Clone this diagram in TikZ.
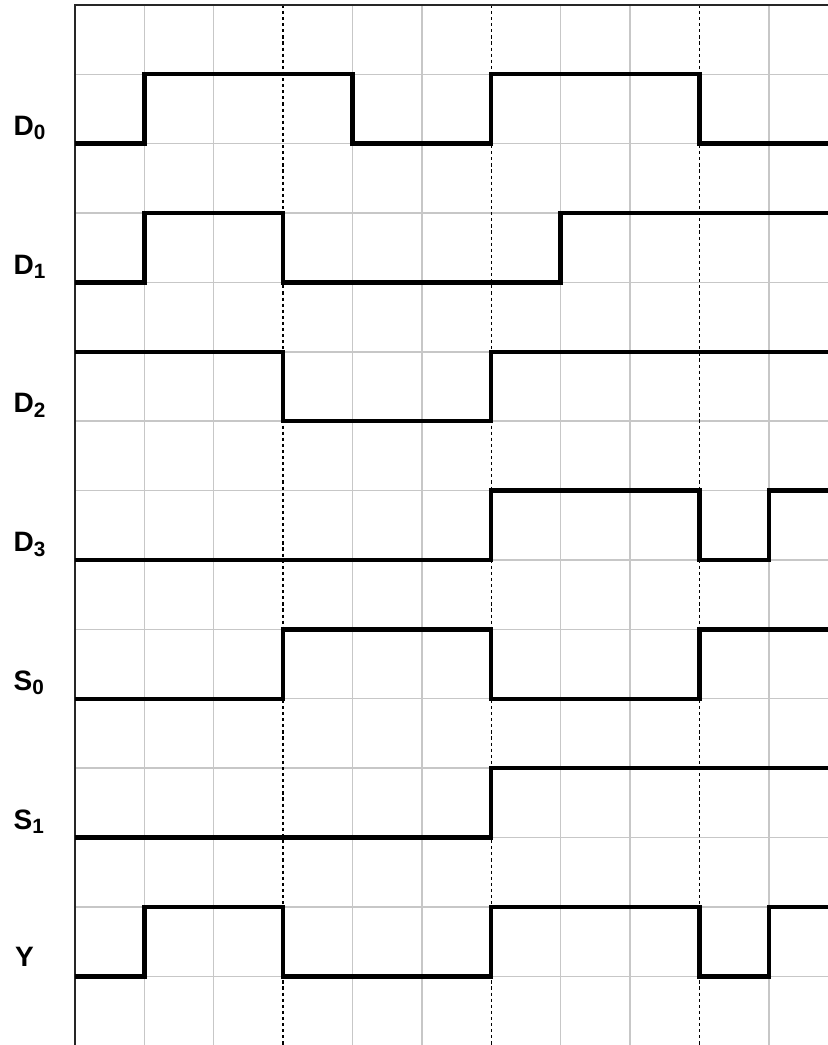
\documentclass[tikz,border=0pt]{standalone}
\usepackage{fontspec}
\setmainfont{Liberation Sans}
\usetikzlibrary{positioning}

\newcommand\idx[1]{\raisebox{-0.3ex}{\fontsize{8.5}{9}\selectfont #1}}

\begin{document}
\begin{tikzpicture}[
    x=1cm, y=1cm,
    grid/.style={draw=black!22, line width=0.6pt},
    border/.style={draw=black!85, line width=0.8pt},
    clock/.style={draw=black, line width=0.55pt, dash pattern={on 1.3pt off 1.2pt}},
    signal/.style={line width=1.8pt, line join=miter},
    sig/.style={font=\fontsize{11.5}{13}\selectfont\bfseries, anchor=base west, inner sep=0pt},
]

\useasboundingbox (-1.08,-14.99) rectangle (10.84,0.07);

%% GRID
    % light grid lines
    \foreach \x in {1,2,4,5,7,8,10}
        \draw[grid] (\x,0) -- (\x,-15.1);
    \foreach \y in {1,...,14}
        \draw[grid] (0,-\y) -- (10.9,-\y);

    % dotted time marks
    \foreach \x in {3,6,9}
        \draw[clock] (\x,0) -- (\x,-15.1);

    % frame
    \draw[border] (0,-15.1) -- (0,0) -- (10.9,0);

%% LABELS
    \node[sig] (d0) at (-0.89,-1.88) {D\idx{0}};
    \node[sig] (d1) at (-0.89,-3.88) {D\idx{1}};
    \node[sig] (d2) at (-0.89,-5.88) {D\idx{2}};
    \node[sig] (d3) at (-0.89,-7.88) {D\idx{3}};
    \node[sig] (s0) at (-0.89,-9.88) {S\idx{0}};
    \node[sig] (s1) at (-0.89,-11.88) {S\idx{1}};
    \node[sig] (y)  at (-0.87,-13.86) {Y};

%% WAVES
    % D0
    \draw[signal] (0,-2) -| (1,-1) -| (4,-2) -| (6,-1) -| (9,-2) -- (10.9,-2);
    % D1
    \draw[signal] (0,-4) -| (1,-3) -| (3,-4) -| (7,-3) -- (10.9,-3);
    % D2
    \draw[signal] (0,-5) -| (3,-6) -| (6,-5) -- (10.9,-5);
    % D3
    \draw[signal] (0,-8) -| (6,-7) -| (9,-8) -| (10,-7) -- (10.9,-7);
    % S0
    \draw[signal] (0,-10) -| (3,-9) -| (6,-10) -| (9,-9) -- (10.9,-9);
    % S1
    \draw[signal] (0,-12) -| (6,-11) -- (10.9,-11);
    % Y
    \draw[signal] (0,-14) -| (1,-13) -| (3,-14) -| (6,-13) -| (9,-14) -| (10,-13) -- (10.9,-13);

\end{tikzpicture}
\end{document}
